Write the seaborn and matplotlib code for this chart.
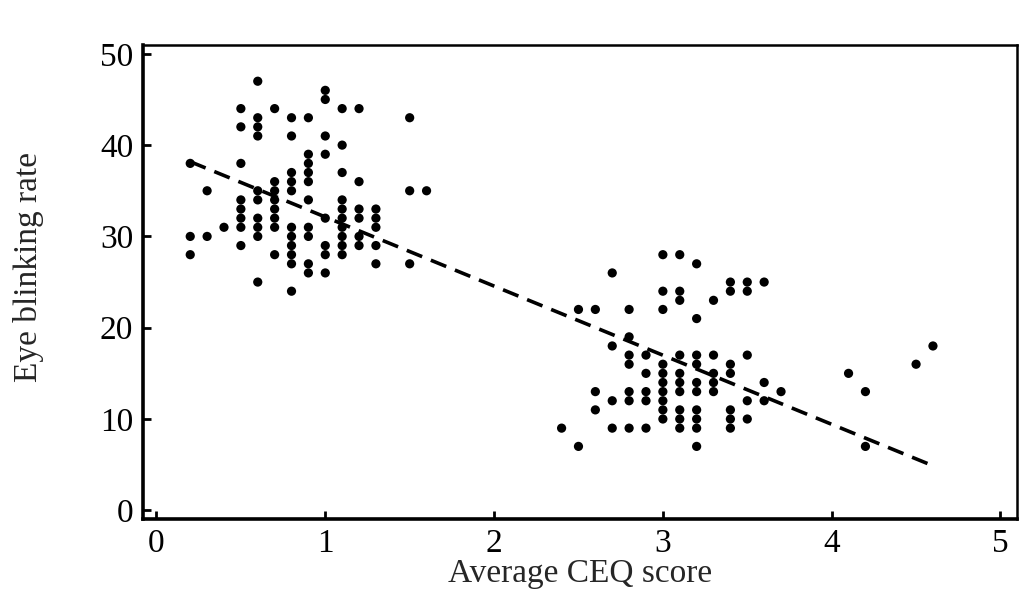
"""
plot.py

Scatter plot of eye blinking rate against average CEQ score with a
least-squares fit drawn as a dashed line. Saves out.png.
"""

from __future__ import annotations

import matplotlib

matplotlib.use("Agg")
import matplotlib.pyplot as plt
import numpy as np
import pandas as pd
import seaborn as sns


# CEQ score levels (x) and the blinking rates observed at each level (y)
CEQ_LEVELS = [0.2, 0.3, 0.4, 0.5, 0.6, 0.7, 0.8, 0.9, 1.0, 1.1, 1.2, 1.3, 1.5, 1.6,
              2.4, 2.5, 2.6, 2.7, 2.8, 2.9, 3.0, 3.1, 3.2, 3.3, 3.4, 3.5, 3.6, 3.7,
              4.1, 4.2, 4.5, 4.6]
BLINK_RATES = [
    [38, 30, 28],
    [35, 30],
    [31],
    [44, 42, 38, 34, 33, 32, 31, 29],
    [47, 43, 42, 41, 35, 34, 32, 31, 30, 25],
    [44, 36, 35, 34, 33, 32, 31, 28],
    [43, 41, 37, 36, 35, 31, 30, 29, 28, 27, 24],
    [43, 39, 38, 37, 36, 34, 31, 30, 27, 26],
    [46, 45, 41, 39, 32, 29, 28, 26],
    [44, 40, 37, 34, 33, 32, 31, 30, 29, 28],
    [44, 36, 33, 32, 30, 29],
    [33, 32, 31, 29, 27],
    [43, 35, 27],
    [35],
    [9],
    [22, 7],
    [22, 13, 11],
    [26, 18, 12, 9],
    [22, 19, 17, 16, 13, 12, 9],
    [17, 15, 13, 12, 9],
    [28, 24, 22, 16, 15, 14, 13, 12, 11, 10],
    [28, 24, 23, 17, 15, 14, 13, 11, 10, 9],
    [27, 21, 17, 16, 14, 13, 11, 10, 9, 7],
    [23, 17, 15, 14, 13],
    [25, 24, 16, 15, 11, 10, 9],
    [25, 24, 17, 12, 10],
    [25, 14, 12],
    [13],
    [15],
    [13, 7],
    [16],
    [18],
]
# fitted line
FIT_INTERCEPT = 39.7
FIT_SLOPE = -7.57
X_TICKS = [0, 1, 2, 3, 4, 5]
Y_TICKS = [0, 10, 20, 30, 40, 50]


sns.set_theme(style="ticks")
plt.rcParams["font.family"] = ["Liberation Serif", "DejaVu Serif"]


def build_frame() -> pd.DataFrame:
    """Flatten the per-level lists into a long table."""
    rows = []
    for level, rates in zip(CEQ_LEVELS, BLINK_RATES):
        for rate in rates:
            rows.append({"ceq": level, "blink": rate})
    return pd.DataFrame(rows)


def main() -> None:
    data = build_frame()

    fig = plt.figure(figsize=(10.36, 5.96), dpi=100)
    ax = fig.add_axes([0.138, 0.13, 0.844, 0.795])

    sns.scatterplot(data=data, x="ceq", y="blink", s=44, color="black",
                    edgecolor="none", ax=ax)

    # fit line spans the observed CEQ range
    fit_x = np.array([data["ceq"].min(), data["ceq"].max()])
    fit = pd.DataFrame({"ceq": fit_x, "blink": FIT_INTERCEPT + FIT_SLOPE * fit_x})
    sns.lineplot(data=fit, x="ceq", y="blink", color="black", linewidth=2.6,
                 linestyle=(0, (4.6, 2.6)), ax=ax)

    ax.set_xlim(-0.08, 5.1)
    ax.set_ylim(-0.9, 51)
    ax.set_xticks(X_TICKS)
    ax.set_yticks(Y_TICKS)
    ax.tick_params(direction="in", length=6, width=2, labelsize=24, colors="black", pad=7)

    for side in ["left", "bottom"]:
        ax.spines[side].set_linewidth(2.6)
    for side in ["top", "right"]:
        ax.spines[side].set_linewidth(1.8)
    for spine in ax.spines.values():
        spine.set_visible(True)
        spine.set_color("black")

    ax.set_xlabel("Average CEQ score", fontsize=24, labelpad=0)
    ax.set_ylabel("Eye blinking rate", fontsize=24)
    ax.yaxis.set_label_coords(-0.113, 0.53)

    fig.savefig("out.png", dpi=100)
    plt.close(fig)


if __name__ == "__main__":
    main()
